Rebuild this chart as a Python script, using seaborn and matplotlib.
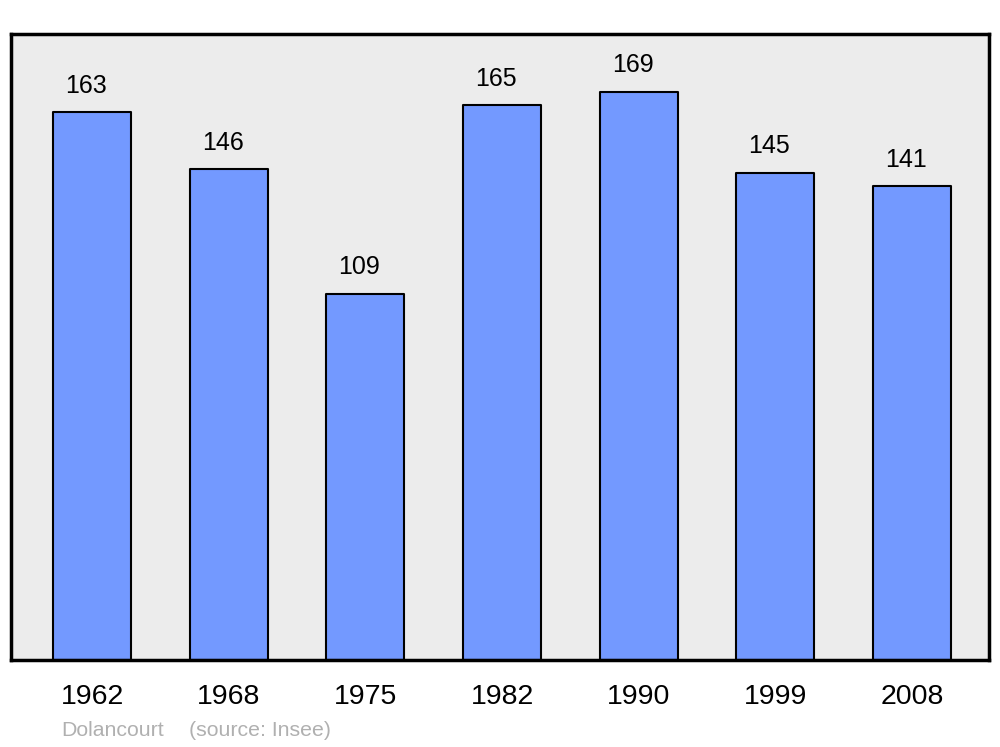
import matplotlib.pyplot as plt
import pandas as pd
import seaborn as sns

years = ["1962", "1968", "1975", "1982", "1990", "1999", "2008"]
population = [163, 146, 109, 165, 169, 145, 141]
commune = "Dolancourt"
source = "(source: Insee)"

df = pd.DataFrame({"year": years, "pop": population})

sns.set_style("white")
plt.rcParams["font.family"] = ["Liberation Sans", "DejaVu Sans"]
plt.rcParams["text.color"] = "black"
plt.rcParams["xtick.color"] = "black"

fig = plt.figure(figsize=(10, 7.47), dpi=100)
ax = fig.add_axes([0.011, 87 / 747, 0.978, 626 / 747])
ax.set_facecolor("#ececec")

sns.barplot(data=df, x="year", y="pop", color="#7399ff", saturation=1,
            edgecolor="black", linewidth=1.5, width=0.57, ax=ax)
for p in ax.patches:
    p.set_joinstyle("round")

for i, v in enumerate(population):
    ax.annotate(str(v), (i, v), xytext=(-4.3, 19), textcoords="offset points",
                ha="center", va="center", fontsize=18, color="black")

ax.set_xlim(-0.593, 6.563)
ax.set_ylim(0, 186.2)
ax.set_yticks([])
ax.set_xlabel("")
ax.set_ylabel("")
ax.tick_params(axis="x", length=0, pad=17, labelsize=20.5, labelcolor="black")
for s in ax.spines.values():
    s.set_linewidth(2.5)
    s.set_color("black")
    s.set_joinstyle("round")

fig.text(0.061, 1 - 730 / 747, commune, color="#b0b0b0", fontsize=15.3, va="center")
fig.text(0.189, 1 - 730 / 747, source, color="#b0b0b0", fontsize=15.3, va="center")

fig.savefig("out.png", dpi=100)
